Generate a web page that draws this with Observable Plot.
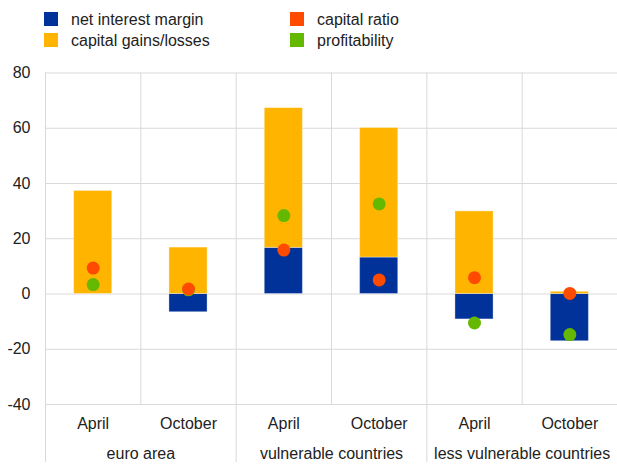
<!DOCTYPE html>
<html>
<head>
<meta charset="utf-8">
<script src="https://cdn.jsdelivr.net/npm/d3@7"></script>
<script src="https://cdn.jsdelivr.net/npm/@observablehq/plot@0.6"></script>
<style>
  body { margin: 0; background: #fff; font-family: "Liberation Sans", Arial, sans-serif; }
  #legend { position: relative; width: 617px; height: 60px; }
  .sw { position: absolute; width: 14px; height: 14px; }
  .lt { position: absolute; font-size: 16px; line-height: 16px; color: #222; white-space: nowrap; }
  svg { display: block; }
</style>
</head>
<body>
<div id="legend"></div>
<div id="chart"></div>
<script>
const groups = ["euro area", "euro area", "vulnerable countries", "vulnerable countries", "less vulnerable countries", "less vulnerable countries"];
const periods = ["April", "October", "April", "October", "April", "October"];
const netInterestMargin = [0, -6.6, 16.7, 13.2, -9.2, -17.1];
const capitalGains = [37.3, 16.8, 50.6, 46.9, 29.9, 0.8];
const capitalRatio = [9.4, 1.8, 15.9, 5.1, 5.9, 0.2];
const profitability = [3.4, 1.5, 28.4, 32.6, -10.5, -14.7];
const groupNames = ["euro area", "vulnerable countries", "less vulnerable countries"];
const yTicks = [-40, -20, 0, 20, 40, 60, 80];

const series = [
  {name: "net interest margin", color: "#003299"},
  {name: "capital gains/losses", color: "#FFB400"},
  {name: "capital ratio", color: "#FF4B00"},
  {name: "profitability", color: "#65B800"}
];

// legend
const legend = document.getElementById("legend");
const legPos = [[44, 12, 71, 11.5], [44, 33, 71, 32.5], [290, 12, 317, 11.5], [290, 33, 317, 32.5]];
series.forEach((s, k) => {
  const [sx, sy, tx, ty] = legPos[k];
  const sw = document.createElement("div");
  sw.className = "sw"; sw.style.left = sx + "px"; sw.style.top = sy + "px"; sw.style.background = s.color;
  const t = document.createElement("div");
  t.className = "lt"; t.style.left = tx + "px"; t.style.top = ty + "px"; t.textContent = s.name;
  legend.appendChild(sw); legend.appendChild(t);
});

const rows = periods.map((p, i) => ({
  i, period: p, group: groups[i],
  nim: netInterestMargin[i], gains: capitalGains[i],
  ratio: capitalRatio[i], profit: profitability[i]
}));

const bars = [];
rows.forEach(d => {
  bars.push({i: d.i, y1: 0, y2: d.nim, fill: series[0].color});
  const base = d.nim > 0 ? d.nim : 0;
  bars.push({i: d.i, y1: base, y2: base + d.gains, fill: series[1].color});
});

const groupRows = groupNames.map(g => {
  const idx = rows.filter(r => r.group === g).map(r => r.i);
  return {group: g, center: (d3.min(idx) + d3.max(idx) + 1) / 2, start: d3.min(idx)};
});

const gridColor = "#d9d9d9";

const chart = Plot.plot({
  width: 617,
  height: 406,
  marginTop: 12.5,
  marginBottom: 62,
  marginLeft: 45,
  marginRight: 0,
  style: {fontFamily: "Liberation Sans, Arial, sans-serif", fontSize: "16px", color: "#222", background: "#fff"},
  x: {type: "linear", domain: [0, 6], axis: null},
  y: {domain: [-40, 80], axis: null},
  marks: [
    Plot.ruleY(yTicks, {stroke: gridColor, strokeWidth: 1}),
    // inner category separators
    Plot.ruleX(rows.filter(r => !groupRows.some(g => g.start === r.i)), {x: d => d.i, y1: -40, y2: 80, stroke: gridColor}),
    // group separators extending below the axis
    Plot.ruleX(groupRows, {x: d => d.start, y1: -61, y2: 80, stroke: gridColor}),
    Plot.rectY(bars, {x1: d => d.i + 0.3, x2: d => d.i + 0.7, y1: "y1", y2: "y2", fill: "fill", stroke: "white", strokeOpacity: 0.35, strokeWidth: 1}),
    Plot.dot(rows, {x: d => d.i + 0.5, y: "profit", r: 6.5, fill: series[3].color, stroke: "none"}),
    Plot.dot(rows, {x: d => d.i + 0.5, y: "ratio", r: 6.5, fill: series[2].color, stroke: "none"}),
    Plot.axisY(yTicks, {tickSize: 0, tickPadding: 15, fontSize: 16, fill: "#222", tickFormat: d => String(d)}),
    Plot.text(rows, {x: d => d.i + 0.5, y: -40, text: "period", dy: 19, fontSize: 16, fill: "#222"}),
    Plot.text(groupRows, {x: "center", y: -40, text: "group", dy: 49, fontSize: 16, fill: "#222"})
  ]
});
document.getElementById("chart").appendChild(chart);
</script>
</body>
</html>
